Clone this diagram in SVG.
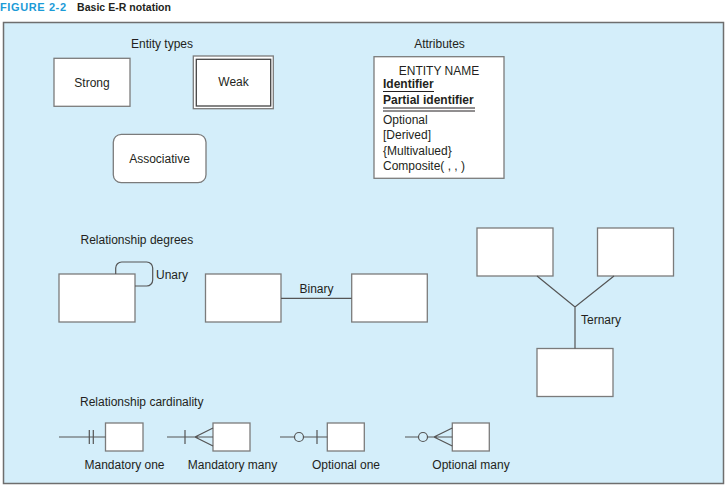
<svg xmlns="http://www.w3.org/2000/svg" width="726" height="485" viewBox="0 0 726 485">
<style>
text{font-family:"Liberation Sans",Arial,sans-serif;font-size:12px;fill:#231f20}
.c{text-anchor:middle}
.b{fill:#fff;stroke:#7b7b7b;stroke-width:1.3}
.l{fill:none;stroke:#555;stroke-width:1.2}
.bold{font-weight:bold}
</style>
<rect width="726" height="485" fill="#fff"/>
<text x="0" y="11" class="bold" style="font-size:11px;fill:#1b9bd7" textLength="66">FIGURE 2-2</text>
<text x="77" y="11" class="bold" style="font-size:10.5px" textLength="94">Basic E-R notation</text>
<rect x="3.5" y="22.5" width="720" height="461" fill="#d4eefa" stroke="#6e6e6e" stroke-width="1.5"/>

<text x="162" y="47.5" class="c">Entity types</text>
<g id="strong"><rect class="b" x="54" y="58.3" width="76" height="48"/><text x="92" y="86.5" class="c">Strong</text></g>
<g id="weak"><rect class="b" x="193.3" y="56" width="80" height="52.7"/><rect fill="none" stroke="#444" stroke-width="1.3" x="196.3" y="59.3" width="74.4" height="46.7"/><text x="233.5" y="86" class="c">Weak</text></g>
<g id="associative"><rect class="b" x="113.3" y="134.3" width="92.7" height="48.4" rx="8"/><text x="159.5" y="162.5" class="c">Associative</text></g>

<text x="439.5" y="47.5" class="c">Attributes</text>
<g id="attributes">
<rect class="b" x="374" y="56.7" width="130" height="121.6"/>
<text x="439" y="74.5" class="c">ENTITY NAME</text>
<text x="383" y="88" class="bold">Identifier</text>
<line x1="383" y1="91.5" x2="434" y2="91.5" stroke="#231f20" stroke-width="1"/>
<text x="383" y="104" class="bold">Partial identifier</text>
<line x1="383" y1="108" x2="475" y2="108" stroke="#231f20" stroke-width="1"/>
<line x1="383" y1="111" x2="475" y2="111" stroke="#231f20" stroke-width="1"/>
<text x="383" y="123.5">Optional</text>
<text x="383" y="139">[Derived]</text>
<text x="383" y="154.5">{Multivalued}</text>
<text x="383" y="170">Composite( , , )</text>
</g>

<text x="80.5" y="243.5">Relationship degrees</text>
<g id="unary"><rect class="b" x="59" y="274" width="76" height="48"/><text x="156" y="278.5">Unary</text></g>
<g id="binary-a"><rect class="b" x="205.5" y="274" width="75.5" height="48"/></g>
<g id="binary-b"><rect class="b" x="351.7" y="274" width="75.6" height="48"/></g>
<g id="ternary-a"><rect class="b" x="477" y="228" width="76" height="48"/></g>
<g id="ternary-b"><rect class="b" x="597.5" y="228" width="76" height="48"/></g>
<g id="ternary-c"><rect class="b" x="537" y="348.5" width="76" height="48"/></g>

<g id="connectors">
<path class="l" d="M115.7,274 V268 a6,6 0 0 1 6,-6 H146.7 a6,6 0 0 1 6,6 V280 a6,6 0 0 1 -6,6 H135"/>
<line class="l" x1="281" y1="298.3" x2="351.7" y2="298.3"/>
<path class="l" d="M537,276 L575,307 L614,276 M575,307 V348.5"/>
</g>
<text x="316.5" y="292.5" class="c">Binary</text>
<text x="581" y="323.5">Ternary</text>

<text x="80" y="406">Relationship cardinality</text>
<g id="mandatory-one">
<rect class="b" x="105.5" y="423" width="37.5" height="28"/>
<path class="l" d="M59,437 H105.5 M89.3,430 V444 M93.3,430 V444"/>
<text x="124.5" y="469" class="c">Mandatory one</text>
</g>
<g id="mandatory-many">
<rect class="b" x="213" y="423" width="37" height="28"/>
<path class="l" d="M167,437 H213 M185,430 V444 M213,428 L195,437 L213,446"/>
<text x="232.5" y="469" class="c">Mandatory many</text>
</g>
<g id="optional-one">
<rect class="b" x="327.3" y="423" width="37" height="28"/>
<path class="l" d="M280,437 H294.5 M303.5,437 H327.3 M317,430 V444"/>
<circle class="l" cx="299" cy="437" r="4.5"/>
<text x="346" y="469" class="c">Optional one</text>
</g>
<g id="optional-many">
<rect class="b" x="452.3" y="423" width="37" height="28"/>
<path class="l" d="M405,437 H418.5 M427.5,437 H452.3 M452.3,428 L434,437 L452.3,446"/>
<circle class="l" cx="423" cy="437" r="4.5"/>
<text x="471" y="469" class="c">Optional many</text>
</g>
</svg>
